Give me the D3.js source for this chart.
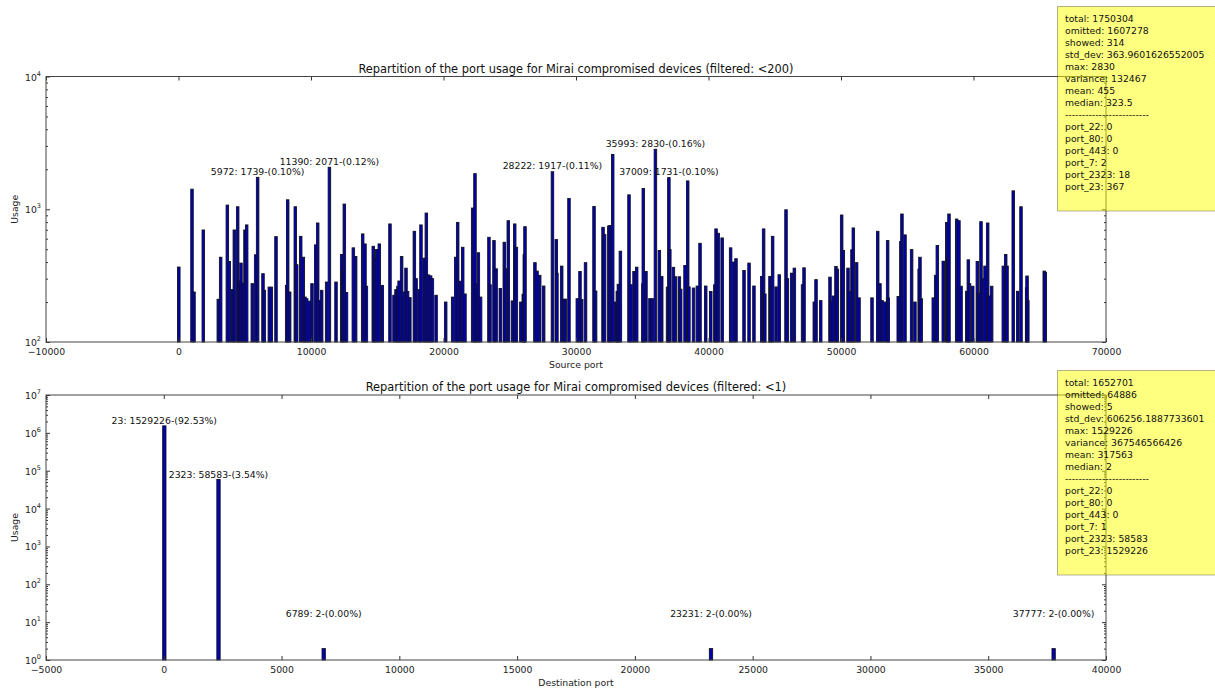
<!DOCTYPE html>
<html>
<head>
<meta charset="utf-8">
<script src="https://cdn.jsdelivr.net/npm/d3@7"></script>
<style>
  body { margin: 0; background: #fff; }
  svg { display: block; font-family: "DejaVu Sans", sans-serif; }
</style>
</head>
<body>
<svg id="chart" width="1215" height="691"></svg>
<script>
// source ports (filtered: <200)
var srcPorts = [23, 1019, 1170, 1872, 3004, 3182, 3686, 3834, 4060, 4215, 4466, 4590, 4717, 4870, 5019, 5145,
  5570, 5825, 5972, 6377, 6477, 6855, 7005, 7358, 8164, 8240, 8390, 8815, 8920, 9222, 9420, 9547, 9675, 9872,
  10075, 10355, 10505, 10680, 10805, 11180, 11390, 11887, 12315, 12400, 12515, 12680, 13195, 13370, 13900,
  14075, 14180, 14700, 14830, 14960, 15155, 15380, 15960, 16265, 16415, 16565, 16650, 16840, 16985, 17170,
  17290, 17460, 17800, 17930, 18160, 18300, 18530, 18705, 18860, 19030, 19160, 19440, 20165, 20690, 20920,
  21070, 21250, 21450, 21620, 22200, 22375, 22460, 22630, 22800, 23430, 23510, 23810, 23970, 24290, 24590,
  24670, 24890, 25200, 25375, 25500, 25840, 26020, 26100, 26150, 26900, 27060, 27260, 27560, 28222, 28510,
  28560, 28920, 29120, 29200, 29470, 30100, 30300, 30430, 30720, 31360, 31480, 32040, 32160, 32480, 32570,
  32770, 33000, 33120, 33200, 33350, 34000, 34150, 34380, 34580, 35050, 35080, 35280, 35580, 35760, 35993,
  36290, 36470, 36910, 37009, 37080, 37350, 37500, 37800, 37900, 38230, 38430, 38520, 38870, 39160, 39360,
  39790, 40170, 40480, 40570, 40730, 41030, 41670, 41880, 42075, 42680, 43060, 43430, 44015, 44160, 44250,
  44640, 44700, 44840, 45100, 45340, 45850, 45950, 46275, 46480, 47100, 47210, 47985, 48115, 48470, 49170,
  49250, 49420, 49620, 49720, 50050, 50175, 50530, 50610, 50830, 50930, 51180, 51360, 52340, 52770, 52940,
  53100, 53320, 53520, 53560, 54320, 54520, 54600, 54830, 55330, 55580, 55900, 55960, 56050, 56965, 57145,
  57270, 57720, 57980, 58050, 58150, 58730, 58900, 59060, 59490, 59610, 59700, 59940, 60290, 60380, 60565,
  60650, 60870, 61070, 61170, 61370, 62250, 62430, 62530, 63000, 63340, 63585, 64010, 64040, 64100, 65340,
  65420];
var srcCounts = [367, 1416, 238, 698, 210, 435, 1075, 404, 248, 698, 1044, 288, 393, 277, 698, 762,
  275, 454, 1739, 327, 245, 259, 259, 622, 267, 1178, 238, 1044, 382, 625, 435, 218, 212, 203,
  275, 539, 788, 205, 245, 283, 2071, 283, 456, 340, 1094, 236, 512, 441, 652,
  548, 263, 526, 424, 497, 548, 267, 775, 225, 248, 263, 288, 441, 238, 360,
  240, 216, 682, 300, 248, 762, 428, 936, 320, 315, 300, 225, 200, 218, 435,
  796, 287, 517, 230, 1021, 1854, 275, 470, 218, 615, 270, 581, 356, 253, 564,
  356, 820, 204, 775, 517, 200, 229, 455, 739, 396, 342, 318, 264, 1917, 591,
  330, 373, 210, 210, 1205, 212, 340, 209, 396, 1050, 242, 731, 644, 748, 755,
  2590, 200, 241, 272, 483, 1284, 270, 340, 366, 275, 1432, 340, 212, 212, 2830,
  489, 312, 259, 1731, 497, 365, 310, 310, 250, 377, 1634, 260, 255, 264, 554,
  264, 240, 270, 711, 659, 608, 512, 400, 424, 346, 393, 264, 312, 711, 230,
  312, 255, 625, 260, 321, 991, 300, 330, 360, 270, 362, 200, 295, 205, 308,
  203, 222, 371, 354, 905, 489, 360, 240, 495, 723, 396, 215, 215, 682, 275,
  205, 200, 581, 215, 220, 572, 921, 641, 497, 200, 354, 435, 212, 215, 318,
  533, 406, 796, 424, 921, 844, 820, 263, 241, 416, 275, 263, 404, 232, 806,
  300, 373, 788, 222, 263, 373, 456, 373, 1376, 241, 1044, 257, 314, 205, 342,
  335];
var srcLabelled = [5972, 11390, 28222, 35993, 37009];
var srcTotal = 1750304;
var srcStats = ["total: 1750304", "omitted: 1607278", "showed: 314", "std_dev: 363.9601626552005",
  "max: 2830", "variance: 132467", "mean: 455", "median: 323.5", "-------------------------",
  "port_22: 0", "port_80: 0", "port_443: 0", "port_7: 2", "port_2323: 18", "port_23: 367"];
var srcXTicks = [-10000, 0, 10000, 20000, 30000, 40000, 50000, 60000, 70000];

// destination ports (filtered: <1)
var dstPorts = [23, 2323, 6789, 23231, 37777];
var dstCounts = [1529226, 58583, 2, 2, 2];
var dstLabelled = [23, 2323, 6789, 23231, 37777];
var dstTotal = 1652701;
var dstStats = ["total: 1652701", "omitted: 64886", "showed: 5", "std_dev: 606256.1887733601",
  "max: 1529226", "variance: 367546566426", "mean: 317563", "median: 2", "-------------------------",
  "port_22: 0", "port_80: 0", "port_443: 0", "port_7: 1", "port_2323: 58583", "port_23: 1529226"];
var dstXTicks = [-5000, 0, 5000, 10000, 15000, 20000, 25000, 30000, 35000, 40000];

var svg = d3.select("#chart");
var left = 46, right = 1106;

function panel(o) {
  var g = svg.append("g");
  var x = d3.scaleLinear().domain(o.xDomain).range([left, right]);
  var y = d3.scaleLog().domain(o.yDomain).range([o.bottom, o.top]).clamp(true);
  var data = o.ports.map(function(p, i) { return {port: p, count: o.counts[i]}; });

  g.selectAll(".bar").data(data).enter().append("rect")
    .attr("class", "bar")
    .attr("x", d => x(d.port) - (x(o.barW) - x(0)) / 2)
    .attr("width", x(o.barW) - x(0))
    .attr("y", d => y(d.count))
    .attr("height", d => o.bottom - y(d.count))
    .style("fill", "#0000b4")
    .style("stroke", "#111122")
    .style("stroke-width", 0.9);

  // annotations
  g.selectAll(".ann").data(data.filter(d => o.labelled.indexOf(d.port) >= 0)).enter().append("text")
    .attr("x", d => x(d.port))
    .attr("y", d => y(d.count + 10) - 2)
    .attr("text-anchor", "middle")
    .style("font-size", "9.3px")
    .style("fill", "#111")
    .text(d => d.port + ": " + d.count + "-(" + (d.count / o.total * 100).toFixed(2) + "%)");

  var decades = [], minors = [];
  for (var e = Math.log10(o.yDomain[0]); e <= Math.log10(o.yDomain[1]); e++) {
    decades.push(Math.pow(10, e));
    if (e < Math.log10(o.yDomain[1]))
      for (var k = 2; k < 10; k++) minors.push(k * Math.pow(10, e));
  }

  var ax = [
    [d3.axisBottom(x).tickValues(o.xTicks).tickSize(-4).tickFormat(d3.format("d")), "translate(0," + o.bottom + ")"],
    [d3.axisTop(x).tickValues(o.xTicks).tickSize(-4).tickFormat(""), "translate(0," + o.top + ")"],
    [d3.axisLeft(y).tickValues(decades).tickSize(-4).tickFormat(""), "translate(" + left + ",0)"],
    [d3.axisRight(y).tickValues(decades).tickSize(-4).tickFormat(""), "translate(" + right + ",0)"],
    [d3.axisLeft(y).tickValues(minors).tickSize(-2).tickFormat(""), "translate(" + left + ",0)"],
    [d3.axisRight(y).tickValues(minors).tickSize(-2).tickFormat(""), "translate(" + right + ",0)"]
  ];
  ax.forEach(function(a) {
    var s = g.append("g").attr("transform", a[1]).call(a[0].tickPadding(6));
    s.select(".domain").remove();
    s.selectAll("line").attr("stroke", "#333");
    s.selectAll("text").style("font-family", "DejaVu Sans").style("font-size", "9.3px").style("fill", "#222");
  });

  // y labels 10^n
  var yl = g.selectAll(".ylab").data(decades).enter().append("text")
    .attr("x", left - 5)
    .attr("y", d => y(d) + 4)
    .attr("text-anchor", "end")
    .style("font-size", "9.3px")
    .style("fill", "#222");
  yl.append("tspan").text("10");
  yl.append("tspan").attr("dy", -5).style("font-size", "6.5px").text(d => Math.round(Math.log10(d)));

  g.append("rect")
    .attr("x", left).attr("y", o.top)
    .attr("width", right - left).attr("height", o.bottom - o.top)
    .style("fill", "none").style("stroke", "#444").style("stroke-width", 1);

  g.append("text")
    .attr("x", (left + right) / 2).attr("y", o.top - 4)
    .attr("text-anchor", "middle").style("font-size", "11.4px").style("fill", "#111")
    .text(o.title);
  g.append("text")
    .attr("x", (left + right) / 2).attr("y", o.bottom + 26)
    .attr("text-anchor", "middle").style("font-size", "9.3px").style("fill", "#222")
    .text(o.xLabel);
  g.append("text")
    .attr("transform", "translate(18," + (o.top + o.bottom) / 2 + ") rotate(-90)")
    .attr("text-anchor", "middle").style("font-size", "9.3px").style("fill", "#222")
    .text("Usage");

  // stats box
  var bx = 1057.5, by = o.boxTop;
  g.append("rect")
    .attr("x", bx).attr("y", by).attr("width", 200).attr("height", 204.5)
    .style("fill", "#ffff00").style("fill-opacity", 0.5)
    .style("stroke", "#000").style("stroke-opacity", 0.3);
  g.selectAll(".stat").data(o.stats).enter().append("text")
    .attr("x", 1065).attr("y", (d, i) => by + 15.5 + i * 12)
    .style("font-size", "9.3px").style("fill", "#111")
    .text(d => d);
}

panel({ports: srcPorts, counts: srcCounts, total: srcTotal, labelled: srcLabelled, stats: srcStats,
  xDomain: [-10000, 70000], xTicks: srcXTicks, yDomain: [100, 10000], top: 76.5, bottom: 342, barW: 190,
  boxTop: 6.5, title: "Repartition of the port usage for Mirai compromised devices (filtered: <200)",
  xLabel: "Source port"});
panel({ports: dstPorts, counts: dstCounts, total: dstTotal, labelled: dstLabelled, stats: dstStats,
  xDomain: [-5000, 40000], xTicks: dstXTicks, yDomain: [1, 1e7], top: 395, bottom: 660, barW: 140,
  boxTop: 370.5, title: "Repartition of the port usage for Mirai compromised devices (filtered: <1)",
  xLabel: "Destination port"});
</script>
</body>
</html>
